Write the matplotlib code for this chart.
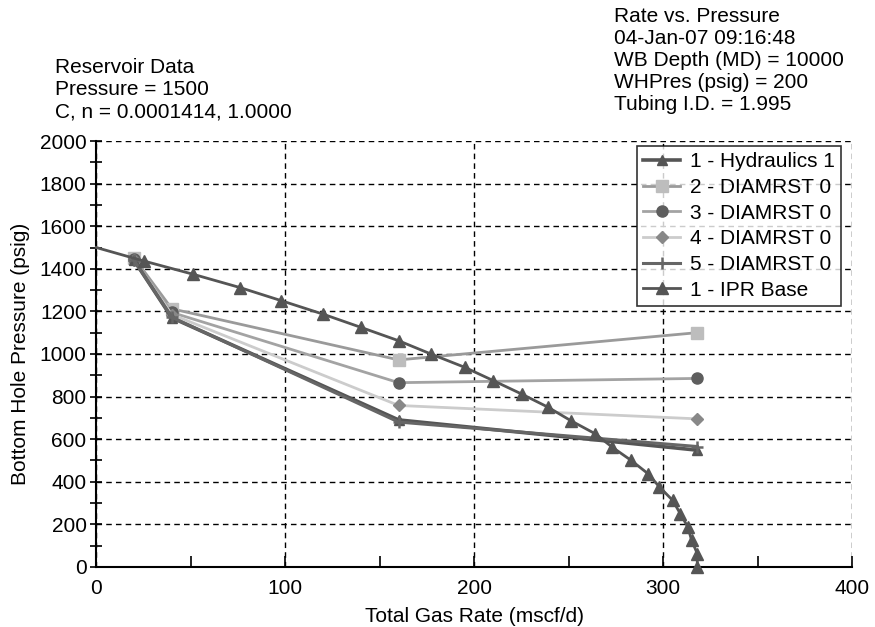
import matplotlib
matplotlib.use('Agg')
import matplotlib.pyplot as plt
from matplotlib.ticker import MultipleLocator

plt.rcParams['font.family'] = ['Liberation Sans', 'DejaVu Sans']

# rates at the four hydraulics points (mscf/d)
hyd_rate = [20, 40, 160, 318]
hydraulics_1 = [1440, 1170, 690, 548]
diamrst_2 = [1452, 1212, 972, 1100]
diamrst_3 = [1445, 1195, 865, 885]
diamrst_4 = [1440, 1185, 758, 695]
diamrst_5 = [1440, 1172, 680, 565]

# IPR base curve
ipr_rate = [0, 25, 51, 76, 98, 120, 140, 160, 177, 195, 210, 225, 239,
            251, 264, 273, 283, 292, 298, 305, 309, 313, 315, 318, 318]
ipr_pres = [1500, 1437, 1375, 1312, 1250, 1187, 1125, 1062, 1000, 937, 875,
            812, 750, 687, 625, 562, 500, 437, 375, 312, 250, 187, 125, 62, 0]

FS = 15

fig = plt.figure(figsize=(8.75, 6.27), dpi=100)
ax = fig.add_axes([0.110, 0.096, 0.864, 0.679])

ax.plot(hyd_rate, hydraulics_1, color='#555555', lw=2.6, marker='^', ms=7,
        label='1 - Hydraulics 1', zorder=4)
ax.plot(hyd_rate, diamrst_2, color='#9a9a9a', lw=2, marker='s', ms=8,
        mfc='#bdbdbd', mec='#bdbdbd', label='2 - DIAMRST 0', zorder=3)
ax.plot(hyd_rate, diamrst_3, color='#a3a3a3', lw=2, marker='o', ms=8,
        mfc='#5e5e5e', mec='#5e5e5e', label='3 - DIAMRST 0', zorder=3)
ax.plot(hyd_rate, diamrst_4, color='#cccccc', lw=2, marker='D', ms=6,
        mfc='#888888', mec='#888888', label='4 - DIAMRST 0', zorder=3)
ax.plot(hyd_rate, diamrst_5, color='#666666', lw=2.2, marker='+', ms=9,
        mew=1.8, label='5 - DIAMRST 0', zorder=4)
ax.plot(ipr_rate, ipr_pres, color='#555555', lw=2, marker='^', ms=8,
        markevery=list(range(1, len(ipr_rate))), label='1 - IPR Base',
        zorder=5, clip_on=False)

ax.set_xlim(0, 400)
ax.set_ylim(0, 2000)
ax.xaxis.set_major_locator(MultipleLocator(100))
ax.xaxis.set_minor_locator(MultipleLocator(50))
ax.yaxis.set_major_locator(MultipleLocator(200))
ax.yaxis.set_minor_locator(MultipleLocator(100))
ax.tick_params(axis='y', which='both', direction='inout', length=8,
               width=1.2, labelsize=FS, pad=3)
ax.tick_params(axis='x', which='both', direction='in', length=8,
               width=1.2, labelsize=FS, pad=9)

ax.grid(True, which='major', color='black', linestyle=(0, (4, 3)), lw=1)
for s in ['top', 'right']:
    ax.spines[s].set_visible(False)
for s in ['left', 'bottom']:
    ax.spines[s].set_linewidth(1.5)

ax.set_xlabel('Total Gas Rate (mscf/d)', fontsize=FS, labelpad=6)
ax.set_ylabel('Bottom Hole Pressure (psig)', fontsize=FS, labelpad=7)

leg = ax.legend(loc='upper right', bbox_to_anchor=(0.985, 0.988), fontsize=FS,
                frameon=True, fancybox=False, edgecolor='black',
                handlelength=1.8, borderpad=0.3, labelspacing=0.32,
                handletextpad=0.45, borderaxespad=0)
leg.get_frame().set_linewidth(1.2)

left_txt = 'Reservoir Data\nPressure = 1500\nC, n = 0.0001414, 1.0000'
right_txt = ('Rate vs. Pressure\n04-Jan-07 09:16:48\nWB Depth (MD) = 10000\n'
             'WHPres (psig) = 200\nTubing I.D. = 1.995')
fig.text(55 / 875, 1 - 58 / 627, left_txt, fontsize=FS, va='top',
         ha='left', linespacing=1.2)
fig.text(614 / 875, 1 - 7 / 627, right_txt, fontsize=FS, va='top',
         ha='left', linespacing=1.2)

fig.savefig('out.png', dpi=100)
